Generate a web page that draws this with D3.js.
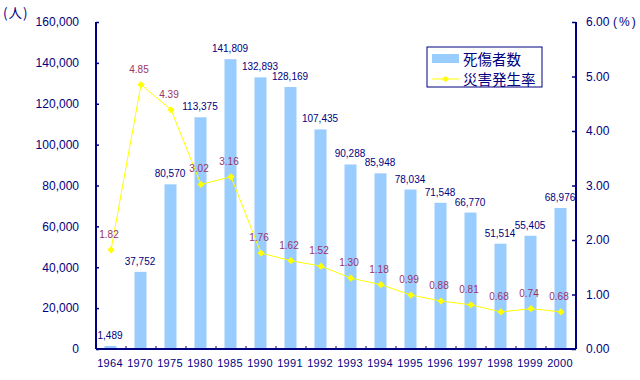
<!DOCTYPE html>
<html>
<head>
<meta charset="utf-8">
<script src="https://cdn.jsdelivr.net/npm/d3@7"></script>
<style>
  body { margin: 0; background: #fff; }
  text { font-family: "Liberation Sans", Arial, sans-serif; }
  .jp { font-family: "Noto Sans CJK JP", sans-serif; }
</style>
</head>
<body>
<div id="chart"></div>
<script>
const years = ["1964","1970","1975","1980","1985","1990","1991","1992","1993","1994","1995","1996","1997","1998","1999","2000"];
const casualties = [1489,37752,80570,113375,141809,132893,128169,107435,90288,85948,78034,71548,66770,51514,55405,68976];
const rates = [1.82,4.85,4.39,3.02,3.16,1.76,1.62,1.52,1.30,1.18,0.99,0.88,0.81,0.68,0.74,0.68];
const leftTicks = [0,20000,40000,60000,80000,100000,120000,140000,160000];
const rightTicks = [0,1,2,3,4,5,6];

const W = 640, H = 380;
const plotLeft = 96, plotRight = 576, plotTop = 22, plotBottom = 349;
const navy = "#000080";

const svg = d3.select("#chart").append("svg")
    .attr("width", W)
    .attr("height", H);

const xScale = d3.scaleBand().domain(years).range([plotLeft, plotRight]).padding(0);
const yScale = d3.scaleLinear().domain([0, 160000]).range([plotBottom, plotTop]);
const rScale = d3.scaleLinear().domain([0, 6]).range([plotBottom, plotTop]);
const barW = xScale.bandwidth() * 0.4;
const cx = (i) => xScale(years[i]) + xScale.bandwidth()/2;

// bars
svg.selectAll("rect.bar")
    .data(casualties)
    .enter()
    .append("rect")
    .attr("class", "bar")
    .attr("x", (d, i) => cx(i) - barW/2 - 0.5)
    .attr("y", d => yScale(d))
    .attr("width", barW)
    .attr("height", d => plotBottom - yScale(d))
    .attr("fill", "#99ccff");

// bar labels
svg.selectAll("text.blab")
    .data(casualties)
    .enter()
    .append("text")
    .attr("class", "blab")
    .attr("x", (d, i) => cx(i) - 1)
    .attr("y", d => yScale(d) - 7)
    .attr("text-anchor", "middle")
    .attr("font-size", 10)
    .attr("fill", navy)
    .text(d => d3.format(",")(d));

// rate line
const line = d3.line()
    .x((d, i) => cx(i))
    .y(d => rScale(d));

svg.append("path")
    .datum(rates)
    .attr("d", line)
    .attr("fill", "none")
    .attr("stroke", "#ffff00")
    .attr("stroke-width", 1);

svg.selectAll("path.mk")
    .data(rates)
    .enter()
    .append("path")
    .attr("class", "mk")
    .attr("d", d3.symbol().type(d3.symbolSquare).size(26))
    .attr("transform", (d, i) => "translate(" + cx(i) + "," + rScale(d) + ") rotate(45)")
    .attr("fill", "#ffff00");

svg.selectAll("text.rlab")
    .data(rates)
    .enter()
    .append("text")
    .attr("class", "rlab")
    .attr("x", (d, i) => cx(i) - 2)
    .attr("y", d => rScale(d) - 12)
    .attr("text-anchor", "middle")
    .attr("font-size", 10)
    .attr("fill", "#993366")
    .text(d => d3.format(".2f")(d));

// left axis
const yAxis = d3.axisLeft(yScale).tickValues(leftTicks).tickFormat(d3.format(",")).tickSize(-3).tickPadding(17);
const gy = svg.append("g")
    .attr("transform", "translate(" + plotLeft + ",0)")
    .call(yAxis);

// right axis
const rAxis = d3.axisRight(rScale).tickValues(rightTicks).tickFormat(d3.format(".2f")).tickSize(-4).tickPadding(10);
const gr = svg.append("g")
    .attr("transform", "translate(" + plotRight + ",0)")
    .call(rAxis);

// x axis
const xAxis = d3.axisBottom(xScale).tickSize(0).tickPadding(10);
const gx = svg.append("g")
    .attr("transform", "translate(-1," + plotBottom + ")")
    .call(xAxis);

// band boundary ticks on x axis
svg.selectAll("line.xt")
    .data(years.slice(1))
    .enter()
    .append("line")
    .attr("class", "xt")
    .attr("x1", d => xScale(d))
    .attr("x2", d => xScale(d))
    .attr("y1", plotBottom)
    .attr("y2", plotBottom - 3)
    .attr("stroke", navy);

[gy, gr, gx].forEach(g => {
    g.selectAll(".domain").attr("stroke", navy).attr("stroke-width", 2);
    g.selectAll(".tick line").attr("stroke", navy).attr("stroke-width", 1.5);
    g.selectAll(".tick text").attr("fill", navy).attr("font-size", 12);
});
gy.select(".domain").attr("d", "M0," + plotTop + "V" + plotBottom);
gr.select(".domain").attr("d", "M0," + plotTop + "V" + plotBottom);
gx.select(".domain").attr("d", "M" + (plotLeft + 1) + ",0H" + (plotRight + 1));
gx.selectAll(".tick text").attr("font-size", 11).attr("letter-spacing", 0.3);

// unit labels
svg.append("text").attr("class", "jp").attr("x", 3).attr("y", 18).attr("font-size", 13.5).attr("letter-spacing", 1).attr("fill", navy).text("(人)");
svg.append("text").attr("x", 613).attr("y", 26).attr("font-size", 12).attr("letter-spacing", 2).attr("fill", navy).text("(%)");

// legend
const lg = svg.append("g").attr("transform", "translate(427,47)");
lg.append("rect").attr("width", 115).attr("height", 40).attr("fill", "#fff").attr("stroke", navy).attr("stroke-width", 1);
lg.append("rect").attr("x", 5).attr("y", 7).attr("width", 27).attr("height", 9).attr("fill", "#99ccff");
lg.append("text").attr("class", "jp").attr("x", 36).attr("y", 18).attr("font-size", 14.5).attr("fill", navy).text("死傷者数");
lg.append("line").attr("x1", 5).attr("x2", 32).attr("y1", 32).attr("y2", 32).attr("stroke", "#ffff00");
lg.append("path").attr("d", d3.symbol().type(d3.symbolSquare).size(22)).attr("transform", "translate(18.5,32) rotate(45)").attr("fill", "#ffff00");
lg.append("text").attr("class", "jp").attr("x", 36).attr("y", 38).attr("font-size", 14.5).attr("fill", navy).text("災害発生率");
</script>
</body>
</html>
